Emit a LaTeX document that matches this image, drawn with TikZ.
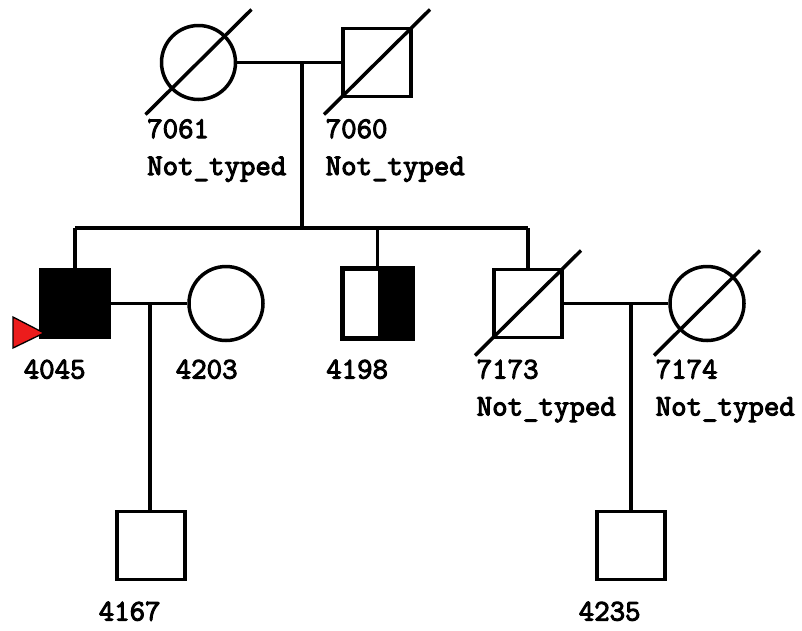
\documentclass[tikz,border=0pt]{standalone}
\usepackage{fontspec}
\newfontfamily\lblfont{Latin Modern Mono}[FakeBold=3.5]
\usetikzlibrary{calc}
\definecolor{probandred}{RGB}{236,28,28}
\begin{document}
\begin{tikzpicture}[x=1pt,y=-1pt,
  line width=3.5pt,
  male/.style={draw,rectangle,minimum size=68pt,inner sep=0pt,line width=3.5pt},
  female/.style={draw,circle,minimum size=74pt,inner sep=0pt,line width=3.5pt},
  aff/.style={fill=black},
  lbl/.style={font=\lblfont\fontsize{30}{30}\selectfont,anchor=base west,inner sep=0pt},
  link/.style={line width=3.5pt},
  dead/.style={line width=3.5pt}]
\useasboundingbox (0,0) rectangle (802,630);
% generation I
\node[female] (i7061) at (198.5,62.5) {};
\node[male] (i7060) at (377,62.5) {};
% generation II
\node[male,aff] (i4045) at (75,303.5) {};
\node[female] (i4203) at (226,303.5) {};
\node[male] (i4198) at (377.5,303.5) {};
\node[male] (i7173) at (528,303.5) {};
\node[female] (i7174) at (707,303.5) {};
% generation III
\node[male] (i4167) at (151,545.5) {};
\node[male] (i4235) at (631,545.5) {};
% half-filled 4198
\fill[black] (i4198.north) rectangle (i4198.south east);
\draw[line width=3.5pt] (i4198.north west) rectangle (i4198.south east);
% deceased marks
\foreach \n in {i7061,i7060,i7173,i7174}
  \draw[dead] ($(\n.center)+(-53,52)$) -- ($(\n.center)+(53,-53)$);
% marriage I
\coordinate (m1) at (302,62.5);
\draw[link] (i7061.east) -- (i7060.west);
\coordinate (s1) at (302,228);
\draw[link] (m1) -- (s1);
\coordinate (s1a) at (75,228);
\coordinate (s1b) at (528,228);
\draw[link] (s1a) -- (s1b);
\draw[link] (s1a) -- (i4045.north);
\draw[link] (377.5,228) -- (i4198.north);
\draw[link] (s1b) -- (i7173.north);
% marriage 4045 x 4203
\draw[link] (i4045.east) -- (i4203.west);
\coordinate (m2) at (150,303.5);
\draw[link] (m2) -- (m2 |- i4167.north);
% marriage 7173 x 7174
\draw[link] (i7173.east) -- (i7174.west);
\coordinate (m3) at (631,303.5);
\draw[link] (m3) -- (i4235.north);
% proband arrow
\filldraw[fill=probandred,draw=black,line width=1.3pt] (13,317) -- (44,333) -- (13,348) -- cycle;
% labels
\node[lbl] (t7061) at ($(i7061.center)+(-53,75.5)$) {7061};
\node[lbl] (u7061) at ($(i7061.center)+(-53,112.5)$) {Not\_typed};
\node[lbl] (t7060) at ($(i7060.center)+(-53,75.5)$) {7060};
\node[lbl] (u7060) at ($(i7060.center)+(-53,112.5)$) {Not\_typed};
\node[lbl] (t4045) at ($(i4045.center)+(-53,75)$) {4045};
\node[lbl] (t4203) at ($(i4203.center)+(-52,75)$) {4203};
\node[lbl] (t4198) at ($(i4198.center)+(-53,75)$) {4198};
\node[lbl] (t7173) at ($(i7173.center)+(-53,75)$) {7173};
\node[lbl] (u7173) at ($(i7173.center)+(-53,112)$) {Not\_typed};
\node[lbl] (t7174) at ($(i7174.center)+(-53,75)$) {7174};
\node[lbl] (u7174) at ($(i7174.center)+(-53,112)$) {Not\_typed};
\node[lbl] (t4167) at ($(i4167.center)+(-54,75)$) {4167};
\node[lbl] (t4235) at ($(i4235.center)+(-54,75)$) {4235};
\end{tikzpicture}
\end{document}
